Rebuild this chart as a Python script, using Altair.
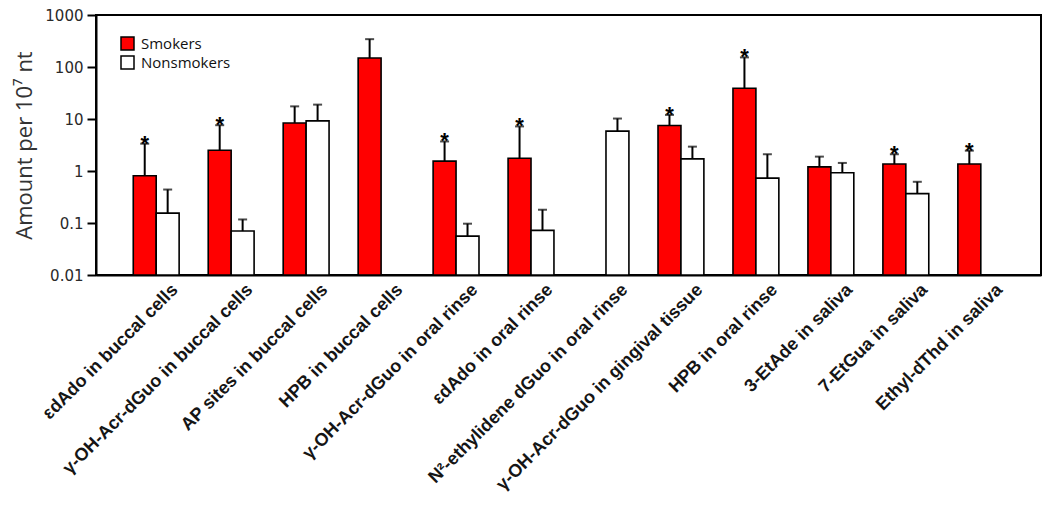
import altair as alt
import pandas as pd

categories = [
    "εdAdo in buccal cells",
    "γ-OH-Acr-dGuo in buccal cells",
    "AP sites in buccal cells",
    "HPB in buccal cells",
    "γ-OH-Acr-dGuo in oral rinse",
    "εdAdo in oral rinse",
    "N²-ethylidene dGuo in oral rinse",
    "γ-OH-Acr-dGuo in gingival tissue",
    "HPB in oral rinse",
    "3-EtAde in saliva",
    "7-EtGua in saliva",
    "Ethyl-dThd in saliva",
]
groups = ["Smokers", "Nonsmokers"]

smokers_mean = [0.81, 2.5, 8.4, 149, 1.55, 1.76, None, 7.5, 39, 1.2, 1.36, 1.36]
smokers_err = [3.35, 7.6, 17.5, 343, 3.7, 7.2, None, 12, 153, 1.89, 2.1, 2.46]
smokers_star = [True, True, False, False, True, True, False, True, True, False, True, True]
nonsmokers_mean = [0.155, 0.07, 9.2, None, 0.056, 0.072, 5.85, 1.71, 0.73, 0.925, 0.367, None]
nonsmokers_err = [0.44, 0.117, 18.9, None, 0.097, 0.18, 10.2, 2.94, 2.1, 1.43, 0.62, None]

rows = []
for i, c in enumerate(categories):
    if smokers_mean[i] is not None:
        rows.append(dict(cat=c, group="Smokers", value=smokers_mean[i],
                         err=smokers_err[i], star="*" if smokers_star[i] else ""))
    if nonsmokers_mean[i] is not None:
        rows.append(dict(cat=c, group="Nonsmokers", value=nonsmokers_mean[i],
                         err=nonsmokers_err[i], star=""))
df = pd.DataFrame(rows)

x = alt.X("cat:N", sort=categories,
          scale=alt.Scale(domain=categories, paddingInner=0.388, paddingOuter=0.497),
          axis=alt.Axis(title=None, labelAngle=-45, labelAlign="right", labelBaseline="middle",
                        labelFontSize=18, labelFontWeight="bold", labelColor="#151515",
                        labelFont="Liberation Sans", ticks=False, labelPadding=12,
                        labelOffset=19,
                        domainColor="black", domainWidth=2, labelLimit=400))
xoff = alt.XOffset("group:N", sort=groups, scale=alt.Scale(domain=groups))
yscale = alt.Scale(type="log", domain=[0.01, 1000])

bars = alt.Chart(df).mark_bar(stroke="black", strokeWidth=1.6).encode(
    x=x,
    xOffset=xoff,
    y=alt.Y("value:Q", scale=yscale,
            axis=alt.Axis(title="Amount per 10⁷ nt", values=[0.01, 0.1, 1, 10, 100, 1000],
                          format="~g", labelFontSize=15, labelColor="#2a2a2a",
                          labelFont="DejaVu Sans", labelPadding=4,
                          titleFontSize=22, titleFont="Open Sans", titleFontWeight="normal",
                          titleColor="#333", titlePadding=8, tickColor="black", tickWidth=2,
                          tickSize=9, domainColor="black", domainWidth=2, grid=False)),
    y2=alt.Y2(datum=0.01),
    fill=alt.Fill("group:N", scale=alt.Scale(domain=groups, range=["#ff0000", "#ffffff"]),
                  legend=alt.Legend(title=None, orient="none", legendX=24, legendY=21,
                                    symbolType="square", symbolSize=169, symbolStrokeColor="black",
                                    symbolStrokeWidth=1.5, labelFontSize=15, labelFont="Open Sans",
                                    labelColor="#111", rowPadding=0, labelOffset=6)),
)

err_rule = alt.Chart(df).mark_rule(color="black", strokeWidth=2).encode(
    x=x, xOffset=xoff, y=alt.Y("value:Q", scale=yscale), y2="err:Q")

caps = alt.Chart(df).mark_tick(color="black", thickness=2, size=9, orient="horizontal").encode(
    x=x, xOffset=xoff, y=alt.Y("err:Q", scale=yscale))

stars = alt.Chart(df).mark_text(fontSize=22, fontWeight="bold", font="Liberation Sans",
                                baseline="alphabetic", dy=7, color="black").encode(
    x=x, xOffset=xoff, y=alt.Y("err:Q", scale=yscale), text="star:N")

chart = alt.layer(bars, err_rule, caps, stars).properties(
    width=945, height=260,
    background="white",
    autosize=alt.AutoSizeParams(type="none"),
    padding={"left": 88, "top": 7, "right": 1, "bottom": 218},
).configure_view(stroke="black", strokeWidth=2)

chart.save("out.html", embed_options={"renderer": "svg", "actions": False})
